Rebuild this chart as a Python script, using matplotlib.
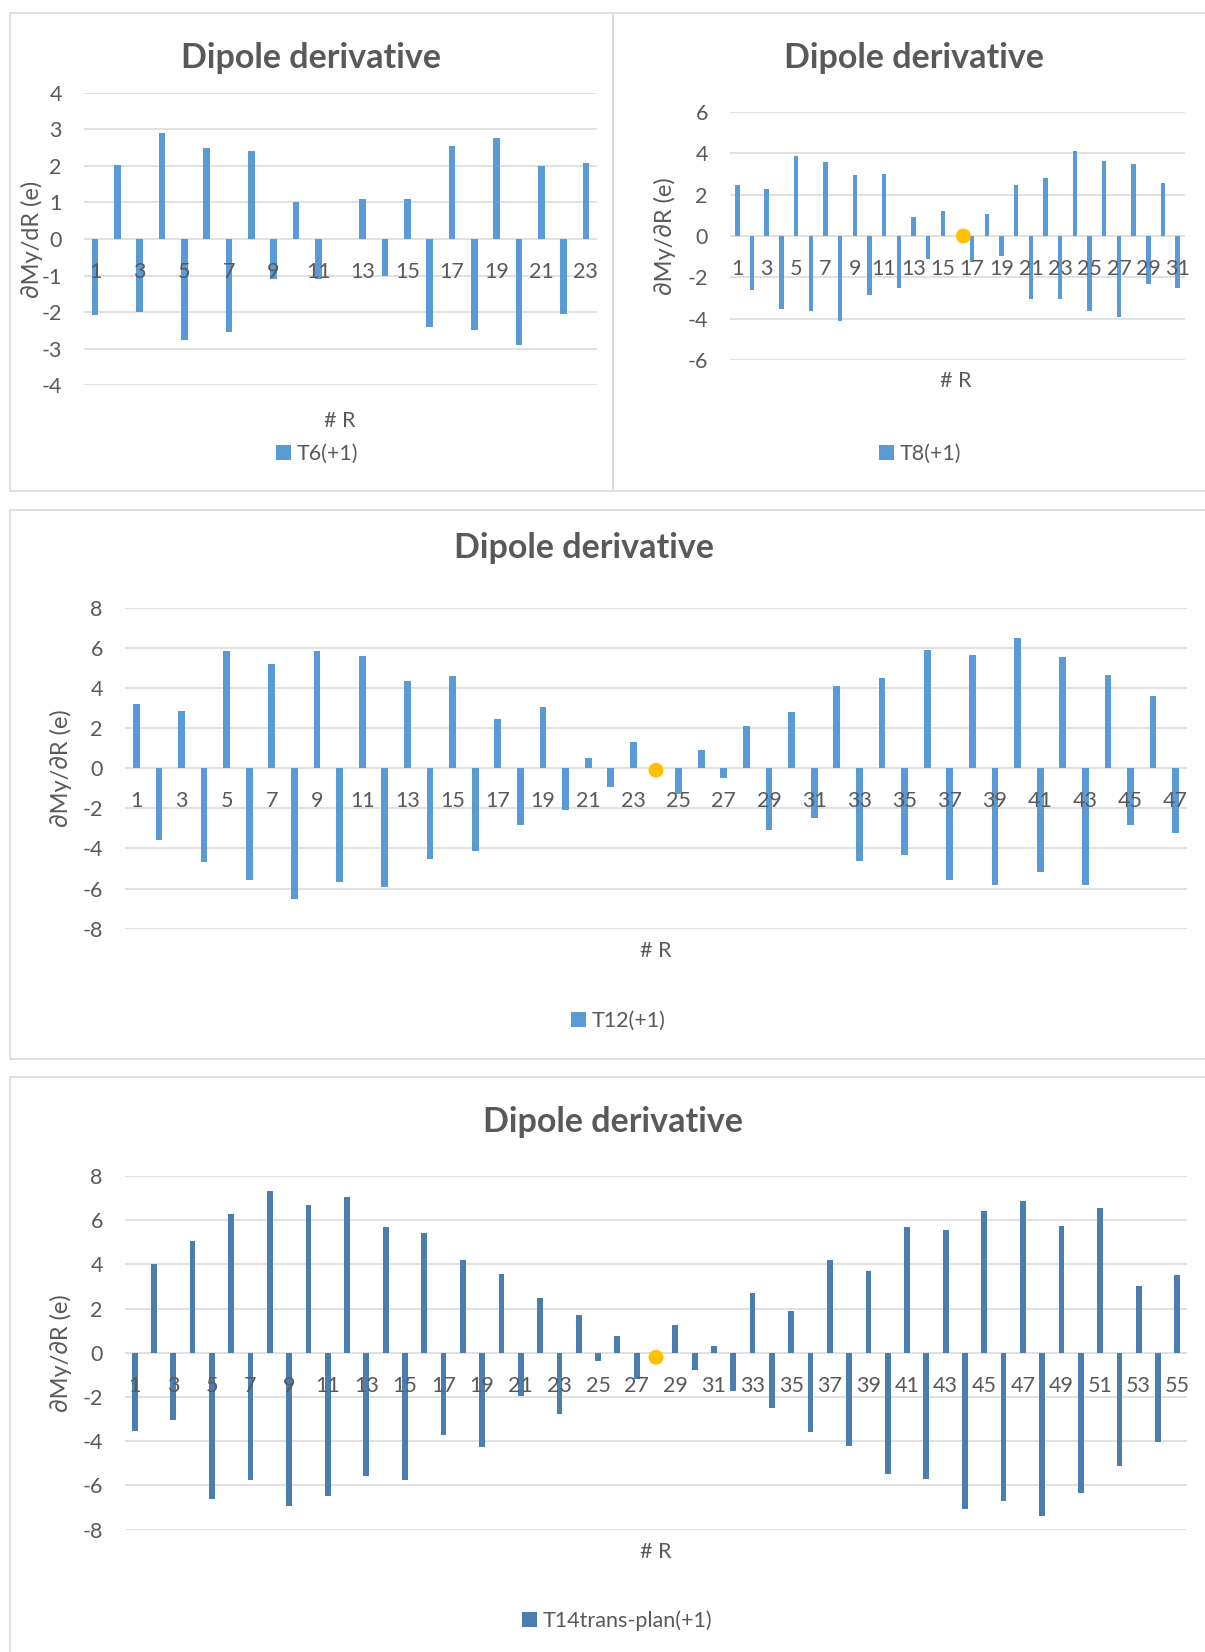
import numpy as np
import matplotlib.pyplot as plt
from matplotlib.patches import Rectangle
from matplotlib.transforms import offset_copy

plt.rcParams['font.family'] = ['Lato', 'DejaVu Sans']
plt.rcParams['axes.unicode_minus'] = False

W, H = 1205, 1652
GREY = '#595959'
GRID = '#D9D9D9'

# dMy/dR values read per mode number (# R)
t6 = [-2.07, 2.03, -1.99, 2.90, -2.76, 2.49, -2.54, 2.40, -1.10, 1.00, -1.09, 0.0,
      1.09, -1.00, 1.10, -2.40, 2.54, -2.49, 2.77, -2.90, 1.99, -2.04, 2.08]
t8 = [2.47, -2.61, 2.27, -3.53, 3.87, -3.65, 3.58, -4.11, 2.97, -2.87, 3.02, -2.52,
      0.90, -1.10, 1.21, 0.0, -1.26, 1.05, -0.95, 2.47, -3.06, 2.82, -3.03, 4.10,
      -3.63, 3.61, -3.92, 3.48, -2.31, 2.55, -2.53]
t12 = [3.21, -3.60, 2.84, -4.67, 5.85, -5.56, 5.18, -6.50, 5.85, -5.66,
       5.58, -5.90, 4.35, -4.53, 4.60, -4.14, 2.44, -2.81, 3.04, -2.09,
       0.50, -0.95, 1.30, 0.0, -1.28, 0.91, -0.51, 2.09, -3.06, 2.79,
       -2.46, 4.10, -4.62, 4.50, -4.35, 5.90, -5.58, 5.65, -5.83, 6.50,
       -5.18, 5.56, -5.83, 4.63, -2.84, 3.59, -3.22]
t14 = [-3.53, 4.01, -3.06, 5.05, -6.59, 6.30, -5.76, 7.33, -6.91, 6.67,
       -6.47, 7.03, -5.58, 5.69, -5.75, 5.41, -3.73, 4.18, -4.25, 3.56,
       -1.95, 2.47, -2.75, 1.70, -0.36, 0.75, -1.20, 0.0, 1.25, -0.78,
       0.32, -1.73, 2.70, -2.49, 1.89, -3.57, 4.22, -4.21, 3.70, -5.46,
       5.70, -5.72, 5.55, -7.06, 6.43, -6.70, 6.86, -7.36, 5.72, -6.33,
       6.55, -5.10, 3.03, -4.04, 3.50]

# yellow marker points (x = # R, y)
dot_t8 = (16.4, 0.0)
dot_t12 = (24, -0.1)
dot_t14 = (28, -0.2)

ticks_6 = [-4, -3, -2, -1, 0, 1, 2, 3, 4]
ticks_8 = [-6, -4, -2, 0, 2, 4, 6]
ticks_12 = [-8, -6, -4, -2, 0, 2, 4, 6, 8]

title = 'Dipole derivative'
ylab = '\u2202My/\u2202R (e)'
ylab_6 = '\u2202My/dR (e)'

fig = plt.figure(figsize=(W / 100, H / 100), dpi=100)


def fx(x):
    return x / W


def fy(y):
    return 1 - y / H


# chart frames
for (x0, y0, x1, y1) in [(10, 13, 613, 491), (613, 13, 1215, 491),
                         (10, 510, 1215, 1059), (10, 1077, 1215, 1670)]:
    fig.add_artist(Rectangle((fx(x0), fy(y1)), fx(x1) - fx(x0), fy(y0) - fy(y1),
                             transform=fig.transFigure, fill=False,
                             edgecolor=GRID, lw=1.2))


def panel(vals, name, color, ticks, plot, title_xy, xlab_xy, leg_xy, ylab_x,
          ylabel, dot=None):
    x0, y0, x1, y1 = plot
    ax = fig.add_axes([fx(x0), fy(y1), fx(x1) - fx(x0), fy(y0) - fy(y1)])
    cats = np.arange(1, len(vals) + 1)
    bars = ax.bar(cats, vals, width=0.3, color=color, zorder=2, label=name)
    if dot is not None:
        ax.scatter([dot[0]], [dot[1]], s=115, color='#FFC000', zorder=4,
                   edgecolor='none')
    ax.set_xlim(0.5, len(vals) + 0.5)
    ax.set_ylim(ticks[0], ticks[-1])
    ax.set_yticks(ticks)
    ax.set_xticks([])
    ax.yaxis.grid(True, color=GRID, lw=1.1)
    ax.set_axisbelow(True)
    for s in ax.spines.values():
        s.set_visible(False)
    ax.tick_params(axis='y', length=0, pad=16, labelsize=15.5, labelcolor=GREY)
    tr = offset_copy(ax.transData, fig=fig, y=-39, units='dots')
    for c in cats[::2]:
        ax.text(c, 0, str(c), transform=tr, ha='center', va='baseline',
                fontsize=15.5, color=GREY, zorder=3)
    fig.text(fx(title_xy[0]), fy(title_xy[1]), title, ha='center',
             va='baseline', fontsize=24.5, fontweight='bold', color=GREY)
    fig.text(fx(xlab_xy[0]), fy(xlab_xy[1]), '# R', ha='center', va='center',
             fontsize=15.5, color=GREY)
    fig.text(fx(ylab_x), fy((y0 + y1) / 2), ylabel, rotation=90, ha='center',
             va='center', fontsize=17, color=GREY)
    ax.legend(handles=[bars], loc='center left',
              bbox_to_anchor=(fx(leg_xy[0]), fy(leg_xy[1])),
              bbox_transform=fig.transFigure, frameon=False, borderpad=0,
              borderaxespad=0, handlelength=0.68, handleheight=0.68,
              handletextpad=0.3, fontsize=15.5, labelcolor=GREY)
    return ax


panel(t6, 'T6(+1)', '#5B9BD5', ticks_6, (84, 92.7, 597, 385.3),
      (311, 68.5), (340, 421), (276, 454), 32, ylab_6)
panel(t8, 'T8(+1)', '#5B9BD5', ticks_8, (730, 112, 1185, 360),
      (914, 68.5), (956, 381), (879, 454), 665, ylab, dot_t8)
panel(t12, 'T12(+1)', '#5B9BD5', ticks_12, (125, 607.7, 1187, 928.7),
      (584, 558.5), (656, 951), (571, 1021), 61, ylab, dot_t12)
panel(t14, 'T14trans-plan(+1)', '#4A7EB1', ticks_12, (125, 1176, 1187, 1529.7),
      (613, 1131.5), (656, 1552), (522, 1621), 61, ylab, dot_t14)

fig.savefig('out.png', dpi=100)
